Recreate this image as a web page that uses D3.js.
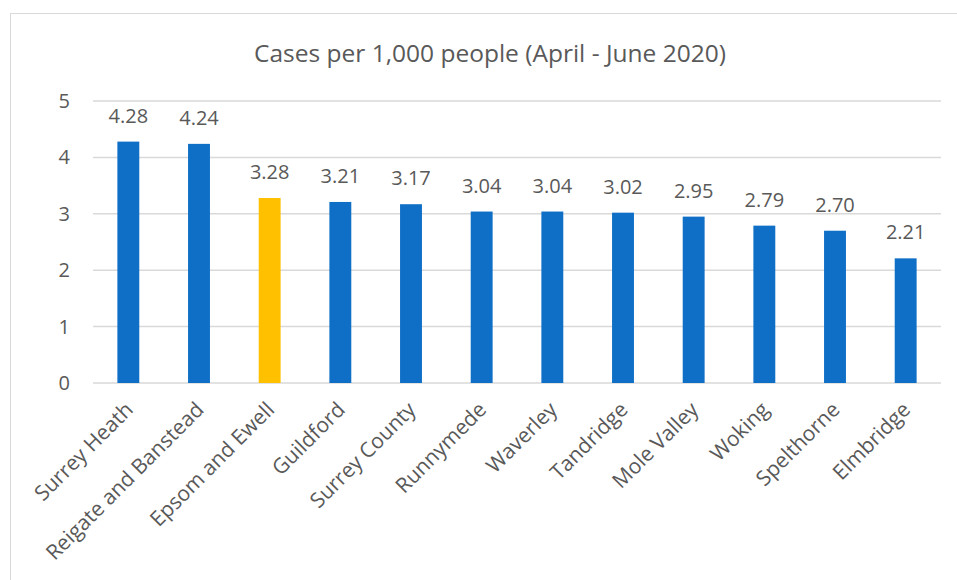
<!DOCTYPE html>
<html>
<head>
<meta charset="utf-8">
<script src="https://cdn.jsdelivr.net/npm/d3@7"></script>
<style>
  body { margin: 0; background: #fff; }
  text { font-family: "Open Sans", sans-serif; fill: #595959; }
</style>
</head>
<body>
<script>
var categories = ["Surrey Heath", "Reigate and Banstead", "Epsom and Ewell", "Guildford",
    "Surrey County", "Runnymede", "Waverley", "Tandridge", "Mole Valley", "Woking",
    "Spelthorne", "Elmbridge"];
var values = [4.28, 4.24, 3.28, 3.21, 3.17, 3.04, 3.04, 3.02, 2.95, 2.79, 2.70, 2.21];
var highlight = "Epsom and Ewell";
var yTicks = [0, 1, 2, 3, 4, 5];
var title = "Cases per 1,000 people (April - June 2020)";

var width = 957,
    height = 580;
var plot = { left: 93, right: 941, top: 101, bottom: 383 };

var svg = d3.select("body").append("svg")
    .attr("width", width)
    .attr("height", height);

// chart frame
svg.append("rect")
    .attr("x", 10.5)
    .attr("y", 13.5)
    .attr("width", 960)
    .attr("height", 600)
    .attr("fill", "none")
    .attr("stroke", "#d9d9d9")
    .attr("stroke-width", 1);

var x = d3.scaleBand()
    .domain(categories)
    .range([plot.left, plot.right])
    .paddingInner(0.69)
    .paddingOuter(0.345);

var y = d3.scaleLinear()
    .domain([0, 5])
    .range([plot.bottom, plot.top]);

// gridlines
svg.append("g")
    .selectAll("line")
    .data(yTicks)
    .enter().append("line")
    .attr("x1", plot.left)
    .attr("x2", plot.right)
    .attr("y1", function (d) { return y(d); })
    .attr("y2", function (d) { return y(d); })
    .attr("stroke", "#d9d9d9")
    .attr("stroke-width", 1.5);

// y axis labels
var yAxis = svg.append("g")
    .attr("transform", "translate(" + (plot.left - 23) + ",0)")
    .call(d3.axisLeft(y).tickValues(yTicks).tickFormat(d3.format("d")).tickSize(0).tickPadding(0));
yAxis.select(".domain").remove();
yAxis.selectAll("text")
    .style("font-size", "20px")
    .style("font-family", "\"Open Sans\", sans-serif")
    .attr("fill", "#595959");

// bars
var data = categories.map(function (c, i) { return { name: c, value: values[i] }; });

svg.append("g")
    .selectAll("rect")
    .data(data)
    .enter().append("rect")
    .attr("x", function (d) { return x(d.name); })
    .attr("y", function (d) { return y(d.value); })
    .attr("width", x.bandwidth())
    .attr("height", function (d) { return y(0) - y(d.value); })
    .attr("fill", function (d) { return d.name === highlight ? "#ffc000" : "#0f6fc6"; });

// value labels
svg.append("g")
    .selectAll("text")
    .data(data)
    .enter().append("text")
    .attr("x", function (d) { return x(d.name) + x.bandwidth() / 2; })
    .attr("y", function (d) { return y(d.value) - 19; })
    .attr("text-anchor", "middle")
    .style("font-size", "20px")
    .text(function (d) { return d.value.toFixed(2); });

// category labels
var xAxis = svg.append("g")
    .attr("transform", "translate(0," + plot.bottom + ")")
    .call(d3.axisBottom(x).tickSize(0).tickPadding(0));
xAxis.select(".domain").remove();
xAxis.selectAll("text")
    .style("font-size", "21px")
    .style("font-family", "\"Open Sans\", sans-serif")
    .attr("fill", "#595959")
    .attr("text-anchor", "end")
    .attr("dy", null)
    .attr("y", 0)
    .attr("transform", "translate(6,28) rotate(-45)");

// title
svg.append("text")
    .attr("x", 490)
    .attr("y", 62)
    .attr("text-anchor", "middle")
    .style("font-size", "24.5px")
    .text(title);
</script>
</body>
</html>
